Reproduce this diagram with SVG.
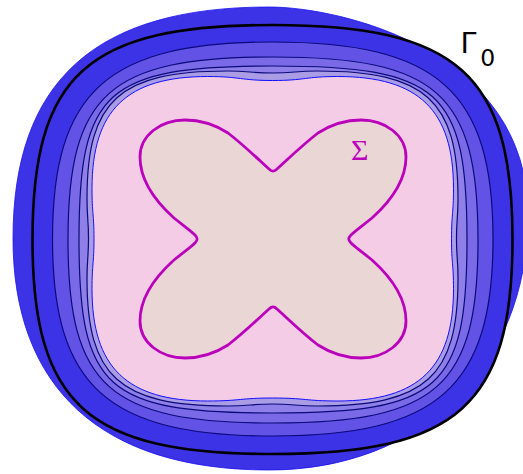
<svg xmlns="http://www.w3.org/2000/svg" width="523" height="474" viewBox="0 0 523 474">
<style>
.band{stroke:#0a0a7a;stroke-width:1.2}
.lbl{font-family:"DejaVu Sans","Liberation Sans",sans-serif;fill:#000}
</style>
<rect width="523" height="474" fill="#fff"/>
<g id="level-sets">
<path id="outer" d="M 269,7 C 340,7 528,50 528,215 C 528,370 418,470 269,470 C 100,470 13,387 13,238.5 C 13,81.1 94.9,7 269,7 Z" fill="#3c32e6" stroke="#1a12f0" stroke-width="0.8"/>
<path id="gamma0" d="M 272.5,25 C 457.3,25 512.5,74.3 512.5,239.5 C 512.5,404.7 457.3,454 272.5,454 C 87.7,454 32.5,404.7 32.5,239.5 C 32.5,74.3 87.7,25 272.5,25 Z" fill="#3c32e6" stroke="#000" stroke-width="2.6"/>
<path id="b1" class="band" d="M 272.75,42 C 437.94,42 493,91.25 493,239 C 493,386.75 437.94,436 272.75,436 C 107.56,436 52.5,386.75 52.5,239 C 52.5,91.25 107.56,42 272.75,42 Z" fill="#6252e6"/>
<path id="b2" class="band" d="M 273,57 C 437,57 478,93.6 478,240 C 478,386.4 437,423 273,423 C 109,423 68,386.4 68,240 C 68,93.6 109,57 273,57 Z" fill="#7b6ae8"/>
<path id="b3" class="band" d="M 273,66 C 439.84,66 467,90.29 467,239.5 C 467,388.71 439.84,413 273,413 C 106.16,413 79,388.71 79,239.5 C 79,90.29 106.16,66 273,66 Z" fill="#8f7fe8"/>
<path id="b4" class="band" d="M 272.5,73 C 295,73 295,71 317.5,71 C 425.69,71 458,100.33 458,198.5 C 458,218.5 456.5,218.5 456.5,238.5 C 456.5,258.5 458,258.5 458,278.5 C 458,376.67 425.69,406 317.5,406 C 295,406 295,404 272.5,404 C 250,404 250,406 227.5,406 C 119.31,406 87,376.67 87,278.5 C 87,258.5 88.5,258.5 88.5,238.5 C 88.5,218.5 87,218.5 87,198.5 C 87,100.33 119.31,71 227.5,71 C 250,71 250,73 272.5,73 Z" fill="#ab9ce6"/>
<path id="b5" d="M 272.75,80.5 C 305.25,80.5 305.25,76.5 337.75,76.5 C 418.78,76.5 453.5,110.17 453.5,188.75 C 453.5,213.75 451.5,213.75 451.5,238.75 C 451.5,263.75 453.5,263.75 453.5,288.75 C 453.5,367.33 418.78,401 337.75,401 C 305.25,401 305.25,398 272.75,398 C 240.25,398 240.25,401 207.75,401 C 126.72,401 92,367.33 92,288.75 C 92,263.75 94,263.75 94,238.75 C 94,213.75 92,213.75 92,188.75 C 92,110.17 126.72,76.5 207.75,76.5 C 240.25,76.5 240.25,80.5 272.75,80.5 Z" fill="#f4cce6" stroke="#1010ff" stroke-width="1"/>
</g>
<g id="sigma">
<path d="M 277,169 C 285,162 300,147 318,133 C 332,124 345,120 361,120 C 385,120 406,135 406,157 C 406,180 392,200 372,218 C 362,226 355,231 351,235 C 348,238 348,240 351,243 C 355,247 362,252 372,260 C 392,278 406,298 406,321 C 406,343 385,358 361,358 C 345,358 332,354 318,345 C 300,331 285,316 277,309 C 274,306 272,306 269,309 C 261,316 246,331 228,345 C 214,354 201,358 185,358 C 161,358 140,343 140,321 C 140,298 154,278 174,260 C 184,252 191,247 195,243 C 198,240 198,238 195,235 C 191,231 184,226 174,218 C 154,200 140,180 140,157 C 140,135 161,120 185,120 C 201,120 214,124 228,133 C 246,147 261,162 269,169 C 272,172 274,172 277,169 Z" fill="#ebd6d6" stroke="#bb00bb" stroke-width="2.8" stroke-linejoin="round"/>
</g>
<g id="labels">
<text x="351" y="160" font-family="'Liberation Serif',serif" font-size="30" fill="#bb00bb">Σ</text>
<text class="lbl" x="460.5" y="52.5" font-size="28.5">Γ</text>
<text class="lbl" x="480.2" y="66.3" font-size="23.5">0</text>
</g>
</svg>
